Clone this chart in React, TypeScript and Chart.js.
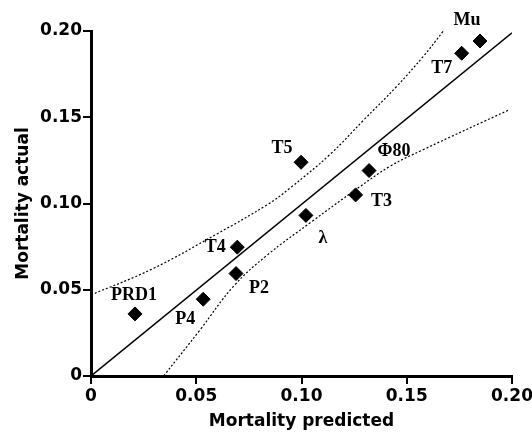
import React, { useEffect, useRef } from "react";
import { Chart, registerables } from "chart.js";

Chart.register(...registerables);

const pointNames = ["PRD1", "P4", "P2", "T4", "λ", "T3", "Φ80", "T5", "T7", "Mu"];
const predicted = [0.0209, 0.0533, 0.0689, 0.0695, 0.1021, 0.1257, 0.1321, 0.0998, 0.1761, 0.1848];
const actual = [0.036, 0.0445, 0.0594, 0.0747, 0.0931, 0.105, 0.1191, 0.1239, 0.1871, 0.1942];

const fitX = [0, 0.2];
const fitY = [0, 0.199];

const upperX = [0, 0.029, 0.06, 0.084, 0.0946, 0.1136, 0.1294, 0.1453, 0.158, 0.1674];
const upperY = [0.047, 0.062, 0.0825, 0.0995, 0.109, 0.1285, 0.1482, 0.168, 0.1855, 0.2];

const lowerX = [0.0345, 0.0519, 0.0677, 0.0836, 0.1049, 0.1263, 0.1421, 0.158, 0.199];
const lowerY = [0, 0.0269, 0.052, 0.07, 0.0895, 0.1085, 0.1216, 0.1313, 0.1545];

const xTickValues = [0, 0.05, 0.1, 0.15, 0.2];
const xTickLabels = ["0", "0.05", "0.10", "0.15", "0.20"];
const yTickValues = [0, 0.05, 0.1, 0.15, 0.2];
const yTickLabels = ["0", "0.05", "0.10", "0.15", "0.20"];

// label placement offsets (pixels) relative to each point
const labelOffsets: [number, number][] = [
  [-1, -19],
  [-18, 20],
  [23, 15],
  [-22, 0],
  [17, 23],
  [26, 6],
  [25, -19],
  [-19, -14],
  [-20, 15],
  [-13, -21],
];

const zip = (xs: number[], ys: number[]) => xs.map((x, i) => ({ x, y: ys[i] }));

const labelPlugin = {
  id: "pointLabels",
  afterDatasetsDraw(chart: any) {
    const meta = chart.getDatasetMeta(3);
    const ctx = chart.ctx;
    ctx.save();
    ctx.fillStyle = "#000";
    ctx.font = "bold 18px 'Liberation Serif', 'Times New Roman', serif";
    ctx.textAlign = "center";
    ctx.textBaseline = "middle";
    meta.data.forEach((el: any, i: number) => {
      const [dx, dy] = labelOffsets[i];
      ctx.fillText(pointNames[i], el.x + dx, el.y + dy);
    });
    ctx.restore();
  },
};

export default function App() {
  const ref = useRef<HTMLCanvasElement>(null);
  useEffect(() => {
    if (!ref.current) return;
    const tickFont = { family: "'DejaVu Sans', sans-serif", size: 17, weight: "bold" as const };
    const chart = new Chart(ref.current, {
      type: "scatter",
      data: {
        datasets: [
          {
            data: zip(fitX, fitY),
            showLine: true,
            borderColor: "#000",
            borderWidth: 1.5,
            pointRadius: 0,
          },
          {
            data: zip(upperX, upperY),
            showLine: true,
            borderColor: "#000",
            borderWidth: 1.2,
            borderDash: [2, 2],
            pointRadius: 0,
            tension: 0.4,
          },
          {
            data: zip(lowerX, lowerY),
            showLine: true,
            borderColor: "#000",
            borderWidth: 1.2,
            borderDash: [2, 2],
            pointRadius: 0,
            tension: 0.4,
          },
          {
            data: zip(predicted, actual),
            pointStyle: "rectRot",
            pointRadius: 7,
            backgroundColor: "#000",
            borderColor: "#000",
            borderWidth: 1,
          },
        ],
      },
      options: {
        animation: false,
        responsive: false,
        events: [],
        layout: { padding: { left: 0, top: 31, right: 20, bottom: 0 } },
        plugins: { legend: { display: false }, tooltip: { enabled: false } },
        scales: {
          x: {
            type: "linear",
            min: 0,
            max: 0.2,
            afterBuildTicks: (s: any) => {
              s.ticks = xTickValues.map((v) => ({ value: v }));
            },
            afterFit: (s: any) => {
              s.height = 58;
              s.paddingRight = 0;
            },
            border: { display: true, color: "#000", width: 3 },
            grid: { display: true, drawOnChartArea: false, drawTicks: true, tickLength: 8, color: "#000", lineWidth: 2 },
            ticks: {
              color: "#000",
              font: tickFont,
              padding: 2,
              maxRotation: 0,
              callback: (_v: any, i: number) => xTickLabels[i],
            },
            title: {
              display: true,
              text: "Mortality predicted",
              color: "#000",
              font: tickFont,
              padding: { top: 0, bottom: 2 },
            },
          },
          y: {
            type: "linear",
            min: 0,
            max: 0.2,
            afterBuildTicks: (s: any) => {
              s.ticks = yTickValues.map((v) => ({ value: v }));
            },
            afterFit: (s: any) => {
              s.width = 91;
              s.paddingTop = 0;
            },
            border: { display: true, color: "#000", width: 3 },
            grid: { display: true, drawOnChartArea: false, drawTicks: true, tickLength: 8, color: "#000", lineWidth: 2 },
            ticks: {
              color: "#000",
              font: tickFont,
              padding: 1,
              callback: (_v: any, i: number) => yTickLabels[i],
            },
            title: {
              display: true,
              text: "Mortality actual",
              color: "#000",
              font: tickFont,
              padding: { top: 13, bottom: 0 },
            },
          },
        },
      },
      plugins: [labelPlugin],
    });
    return () => chart.destroy();
  }, []);
  return (
    <div style={{ position: "fixed", left: 0, top: 0, width: 532, height: 434, background: "#fff" }}>
      <canvas ref={ref} width={532} height={434} style={{ width: 532, height: 434, display: "block" }} />
    </div>
  );
}
